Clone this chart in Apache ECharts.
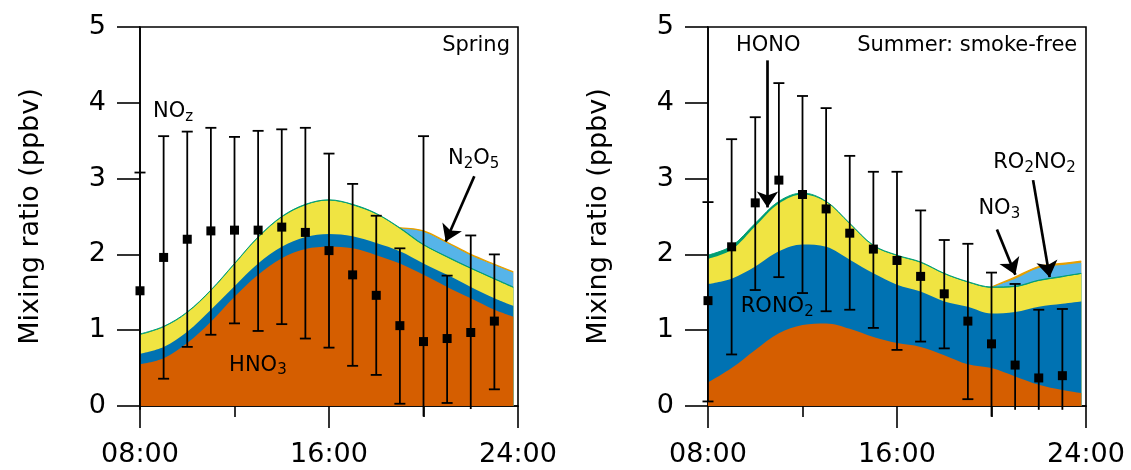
<!DOCTYPE html>
<html><head><meta charset="utf-8">
<script src="https://cdn.jsdelivr.net/npm/echarts@6/dist/echarts.min.js"></script>
<style>html,body{margin:0;padding:0;background:#fff}#c{width:1131px;height:470px}</style>
</head><body><div id="c"></div>
<script>
// ---------- data ----------
const layerHours = [8,9,10,11,12,13,14,15,16,17,18,19,20,21,22,23,23.8];
const errHours   = [8,9,10,11,12,13,14,15,16,17,18,19,20,21,22,23];
const xTickValues = [8,16,24];
const xTickLabels = ['08:00','16:00','24:00'];
const yTickValues = [0,1,2,3,4,5];
const yTitle = 'Mixing ratio (ppbv)';

// Spring (component mixing ratios, ppbv)
const springHNO3   = [0.55,0.63,0.83,1.11,1.44,1.73,1.95,2.07,2.10,2.08,1.99,1.88,1.73,1.57,1.42,1.27,1.18];
const springRONO2  = [0.14,0.15,0.15,0.16,0.14,0.15,0.15,0.16,0.17,0.16,0.16,0.16,0.15,0.16,0.15,0.15,0.14];
const springRO2NO2 = [0.25,0.26,0.25,0.25,0.29,0.34,0.39,0.42,0.44,0.41,0.38,0.30,0.24,0.23,0.24,0.25,0.24];
const springHONO   = [0.01,0.01,0.01,0.01,0.01,0.01,0.01,0.01,0.01,0.01,0.01,0.01,0.01,0.01,0.01,0.01,0.01];
const springN2O5   = [null,null,null,null,null,null,null,null,null,null,null,0,0.17,0.18,0.17,0.18,0.19];
const springNO3    = [null,null,null,null,null,null,null,null,null,null,null,0,0.01,0.01,0.01,0.01,0.01];
const springNOzMean = [1.52,1.96,2.20,2.31,2.32,2.32,2.36,2.29,2.05,1.73,1.46,1.06,0.85,0.89,0.97,1.12];
const springNOzLow  = [-0.05,0.36,0.78,0.94,1.09,0.99,1.08,0.89,0.77,0.53,0.41,0.03,-0.14,0.04,-0.04,0.22];
const springNOzHigh = [3.08,3.56,3.62,3.67,3.55,3.63,3.65,3.67,3.33,2.93,2.51,2.08,3.56,1.72,2.25,2.00];

// Summer: smoke-free
const summerHNO3   = [0.31,0.50,0.74,0.96,1.07,1.09,1.02,0.91,0.83,0.78,0.67,0.55,0.50,0.39,0.28,0.21,0.17];
const summerRONO2  = [1.30,1.18,1.10,1.08,1.06,1.01,0.91,0.84,0.77,0.73,0.71,0.76,0.72,0.85,1.03,1.14,1.21];
const summerRO2NO2 = [0.33,0.38,0.53,0.63,0.66,0.59,0.47,0.36,0.38,0.38,0.36,0.32,0.34,0.33,0.34,0.35,0.36];
const summerHONO   = [0.05,0.05,0.04,0.03,0.02,0.01,0.01,0.01,0.01,0.01,0.01,0.01,0.01,0.01,0.01,0.01,0.01];
const summerN2O5   = [null,null,null,null,null,null,null,null,null,null,null,null,0,0.10,0.16,0.15,0.14];
const summerNO3    = [null,null,null,null,null,null,null,null,null,null,null,null,0,0.02,0.02,0.02,0.02];
const summerNOzMean = [1.39,2.10,2.68,2.98,2.79,2.60,2.28,2.07,1.92,1.71,1.48,1.12,0.82,0.54,0.37,0.40];
const summerNOzLow  = [0.06,0.68,1.53,1.70,1.49,1.25,1.27,1.03,0.74,0.85,0.76,0.09,-0.14,-0.05,-0.05,-0.05];
const summerNOzHigh = [2.69,3.52,3.81,4.26,4.09,3.93,3.30,3.09,3.09,2.58,2.19,2.14,1.76,1.61,1.27,1.28];

// annotation arrows [from, to] in (hour, ppbv)
const springArrows = [[[22.15,3.03],[20.94,2.17]]];
const summerArrows = [[[10.52,4.56],[10.52,2.62]], [[20.23,2.33],[21.01,1.73]], [[21.76,2.98],[22.46,1.70]]];

// text annotations (grid, hour, ppbv)
const annotations = [
  {grid:0, at:[23.66,4.75], text:'Spring', align:'right'},
  {grid:0, at:[8.55,3.88], text:'{m|NO}{s|z}', align:'left'},
  {grid:0, at:[22.12,3.27], text:'{m|N}{s|2}{m|O}{s|5}', align:'center'},
  {grid:0, at:[12.99,0.54], text:'{m|HNO}{s|3}', align:'center'},
  {grid:1, at:[23.63,4.75], text:'Summer: smoke-free', align:'right'},
  {grid:1, at:[10.55,4.75], text:'HONO', align:'center'},
  {grid:1, at:[10.93,1.31], text:'{m|RONO}{s|2}', align:'center'},
  {grid:1, at:[20.33,2.60], text:'{m|NO}{s|3}', align:'center'},
  {grid:1, at:[21.82,3.21], text:'{m|RO}{s|2}{m|NO}{s|2}', align:'center'}
];

// ---------- styling ----------
const FONT = "'DejaVu Sans', sans-serif";
const layerOrder = ['HNO3','RONO2','RO2NO2','HONO','N2O5','NO3'];
const fillColors = {HNO3:'#D55E00', RONO2:'#0072B2', RO2NO2:'#F0E442', HONO:'#009E73', N2O5:'#56B4E9', NO3:'#E69F00'};
const lineWidths = {HNO3:0, RONO2:0, RO2NO2:0, HONO:1, N2O5:0, NO3:1.3};

function cumulate(layers){
  const out = {};
  let base = layerHours.map(()=>0);
  layerOrder.forEach(name=>{
    const arr = layers[name];
    const cum = arr.map((v,i)=> v==null ? null : +(base[i]+v).toFixed(3));
    out[name] = cum;
    base = cum.map((c,i)=> c==null ? base[i] : c);
  });
  return out;
}

function renderErr(params, api){
  const x = api.value(0), lo = api.value(1), hi = api.value(2);
  const pHi = api.coord([x,hi]), pLo = api.coord([x,lo]);
  const w = 5.5, st = {stroke:'#000', lineWidth:1.8};
  const ch = [
    {type:'line', shape:{x1:pHi[0],y1:pHi[1],x2:pLo[0],y2:pLo[1]}, style:st},
    {type:'line', shape:{x1:pHi[0]-w,y1:pHi[1],x2:pHi[0]+w,y2:pHi[1]}, style:st}
  ];
  if (lo >= 0) ch.push({type:'line', shape:{x1:pLo[0]-w,y1:pLo[1],x2:pLo[0]+w,y2:pLo[1]}, style:st});
  return {type:'group', children:ch};
}

function panelSeries(g, layers, mean, low, high, arrows){
  const cum = cumulate(layers);
  const s = [];
  layerOrder.slice().reverse().forEach(name=>{
    s.push({
      type:'line', name:name, xAxisIndex:g, yAxisIndex:g, smooth:0.35, symbol:'none', silent:true, z:2,
      data: layerHours.map((h,i)=>[h,cum[name][i]]).filter(d=>d[1]!=null),
      lineStyle:{color:fillColors[name], width:lineWidths[name]},
      areaStyle:{color:fillColors[name], opacity:1}
    });
  });
  s.push({
    type:'custom', xAxisIndex:g, yAxisIndex:g, z:5, silent:true, renderItem:renderErr,
    encode:{x:0, y:[1,2]},
    data: errHours.map((h,i)=>[h, low[i], high[i]])
  });
  s.push({
    type:'scatter', xAxisIndex:g, yAxisIndex:g, z:6, silent:true, symbol:'rect', symbolSize:9,
    itemStyle:{color:'#000', opacity:1},
    data: errHours.map((h,i)=>[h, mean[i]])
  });
  s.push({
    type:'line', xAxisIndex:g, yAxisIndex:g, z:7, silent:true, symbol:'none', data:[],
    lineStyle:{width:0},
    markLine:{
      silent:true, symbol:['none','arrow'], symbolSize:16,
      lineStyle:{color:'#000', width:2.7, type:'solid', opacity:1},
      itemStyle:{color:'#000'},
      label:{show:false}, emphasis:{disabled:true},
      data: arrows.map(a=>[{coord:a[0]},{coord:a[1]}])
    }
  });
  return s;
}

function xAxis(g){
  return {
    type:'value', gridIndex:g, min:8, max:24, interval:8,
    axisLine:{show:true, onZero:false, lineStyle:{color:'#000', width:1.6}},
    axisTick:{show:true, length:22, lineStyle:{color:'#000', width:1.6}},
    minorTick:{show:true, splitNumber:2, length:11, lineStyle:{color:'#000', width:1.6}},
    splitLine:{show:false}, minorSplitLine:{show:false},
    axisLabel:{color:'#000', fontSize:27, fontFamily:FONT, margin:35, hideOverlap:false,
      showMinLabel:true, showMaxLabel:true,
      formatter: v => { const k = xTickValues.indexOf(v); return k>=0 ? xTickLabels[k] : ''; }}
  };
}
function yAxis(g){
  return {
    type:'value', gridIndex:g, min:0, max:5, interval:1,
    axisLine:{show:true, onZero:false, lineStyle:{color:'#000', width:1.6}},
    axisTick:{show:true, length:23, lineStyle:{color:'#000', width:1.6}},
    splitLine:{show:false},
    axisLabel:{color:'#000', fontSize:27, fontFamily:FONT, margin:34,
      formatter: v => yTickValues.indexOf(v)>=0 ? String(v) : ''},
    name: yTitle, nameLocation:'middle', nameGap:96,
    nameTextStyle:{color:'#000', fontSize:27, fontFamily:FONT}
  };
}

const chart = echarts.init(document.getElementById('c'), null, {renderer:'canvas'});
const option = {
  animation:false,
  backgroundColor:'#fff',
  grid:[
    {left:140, right:613, top:27, bottom:64, show:true, borderColor:'#000', borderWidth:1.6, backgroundColor:'transparent'},
    {left:708, right:45, top:27, bottom:64, show:true, borderColor:'#000', borderWidth:1.6, backgroundColor:'transparent'}
  ],
  xAxis:[xAxis(0), xAxis(1)],
  yAxis:[yAxis(0), yAxis(1)],
  series: [].concat(
    panelSeries(0, {HNO3:springHNO3, RONO2:springRONO2, RO2NO2:springRO2NO2, HONO:springHONO, N2O5:springN2O5, NO3:springNO3},
      springNOzMean, springNOzLow, springNOzHigh, springArrows),
    panelSeries(1, {HNO3:summerHNO3, RONO2:summerRONO2, RO2NO2:summerRO2NO2, HONO:summerHONO, N2O5:summerN2O5, NO3:summerNO3},
      summerNOzMean, summerNOzLow, summerNOzHigh, summerArrows)
  )
};
chart.setOption(option);

const rich = {
  m:{fontSize:21, fontFamily:FONT, lineHeight:26, fill:'#000'},
  s:{fontSize:15, fontFamily:FONT, lineHeight:12, verticalAlign:'bottom', fill:'#000'}
};
const graphics = annotations.map(a=>{
  const p = chart.convertToPixel({gridIndex:a.grid}, a.at);
  return {type:'text', x:p[0], y:p[1], silent:true, z:20,
    style:{text:a.text, fill:'#000', fontSize:21, fontFamily:FONT, align:a.align, verticalAlign:'middle', rich:rich}};
});
chart.setOption({graphic:graphics});
</script>
</body></html>
